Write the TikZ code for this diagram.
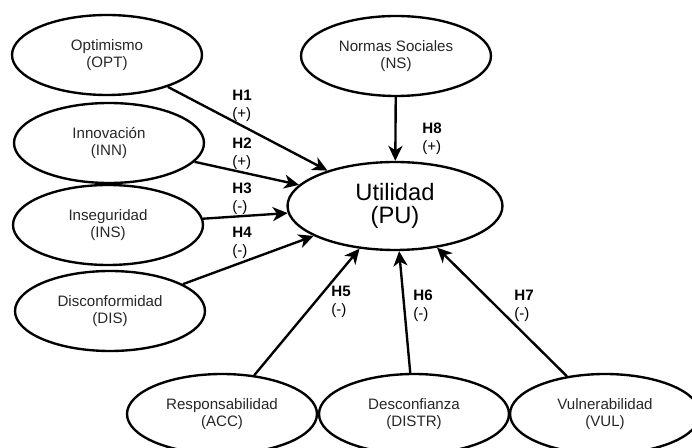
\documentclass[tikz,border=0pt]{standalone}
\usepackage{fontspec}
\setmainfont{Liberation Sans}
\usetikzlibrary{arrows.meta,shapes.geometric}

\begin{document}
\begin{tikzpicture}[x=0.02cm,y=-0.02cm,
    >={Stealth[length=8.5pt,width=8pt,inset=2.5pt]},
    construct/.style={ellipse,draw,line width=1.35pt,minimum width=3.8cm,
      minimum height=1.6cm,inner sep=0pt,align=center,text=black!85,
      font=\fontsize{8.6}{9.6}\selectfont},
    hyp/.style={anchor=west,align=left,inner sep=0pt,
      font=\fontsize{8.6}{10.2}\selectfont},
    path/.style={->,line width=1.35pt}]
  \useasboundingbox (0,0) rectangle (692,448);

  % constructs
  \node[construct] (opt) at (107,55) {Optimismo\\(OPT)};
  \node[construct] (inn) at (109,143) {Innovación\\(INN)};
  \node[construct] (ins) at (108,225) {Inseguridad\\(INS)};
  \node[construct] (dis) at (110,311) {Disconformidad\\(DIS)};
  \node[construct] (ns) at (396,56) {Normas Sociales\\(NS)};
  \node[construct,minimum width=4.3cm,minimum height=1.76cm,text=black,
    font=\fontsize{13.5}{13}\selectfont] (pu) at (395,206) {Utilidad\\(PU)};
  \node[construct] (acc) at (222,414) {Responsabilidad\\(ACC)};
  \node[construct] (distr) at (414,414) {Desconfianza\\(DISTR)};
  \node[construct] (vul) at (605,414) {Vulnerabilidad\\(VUL)};

  % paths
  \path[path] (opt) edge (pu)
              (inn) edge (pu)
              (ins) edge (pu)
              (dis) edge (pu)
              (acc) edge (pu)
              (distr) edge (pu)
              (vul) edge (pu)
              (ns) edge (pu);

  % hypotheses
  \node[hyp] (h1) at (232,105.5) {\textbf{H1}\\(+)};
  \node[hyp] (h2) at (232,153.5) {\textbf{H2}\\(+)};
  \node[hyp] (h3) at (232,198.5) {\textbf{H3}\\(-)};
  \node[hyp] (h4) at (232,242.5) {\textbf{H4}\\(-)};
  \node[hyp] (h5) at (331,301.5) {\textbf{H5}\\(-)};
  \node[hyp] (h6) at (413,305.5) {\textbf{H6}\\(-)};
  \node[hyp] (h7) at (514,305.5) {\textbf{H7}\\(-)};
  \node[hyp] (h8) at (422,138.5) {\textbf{H8}\\(+)};
\end{tikzpicture}
\end{document}
